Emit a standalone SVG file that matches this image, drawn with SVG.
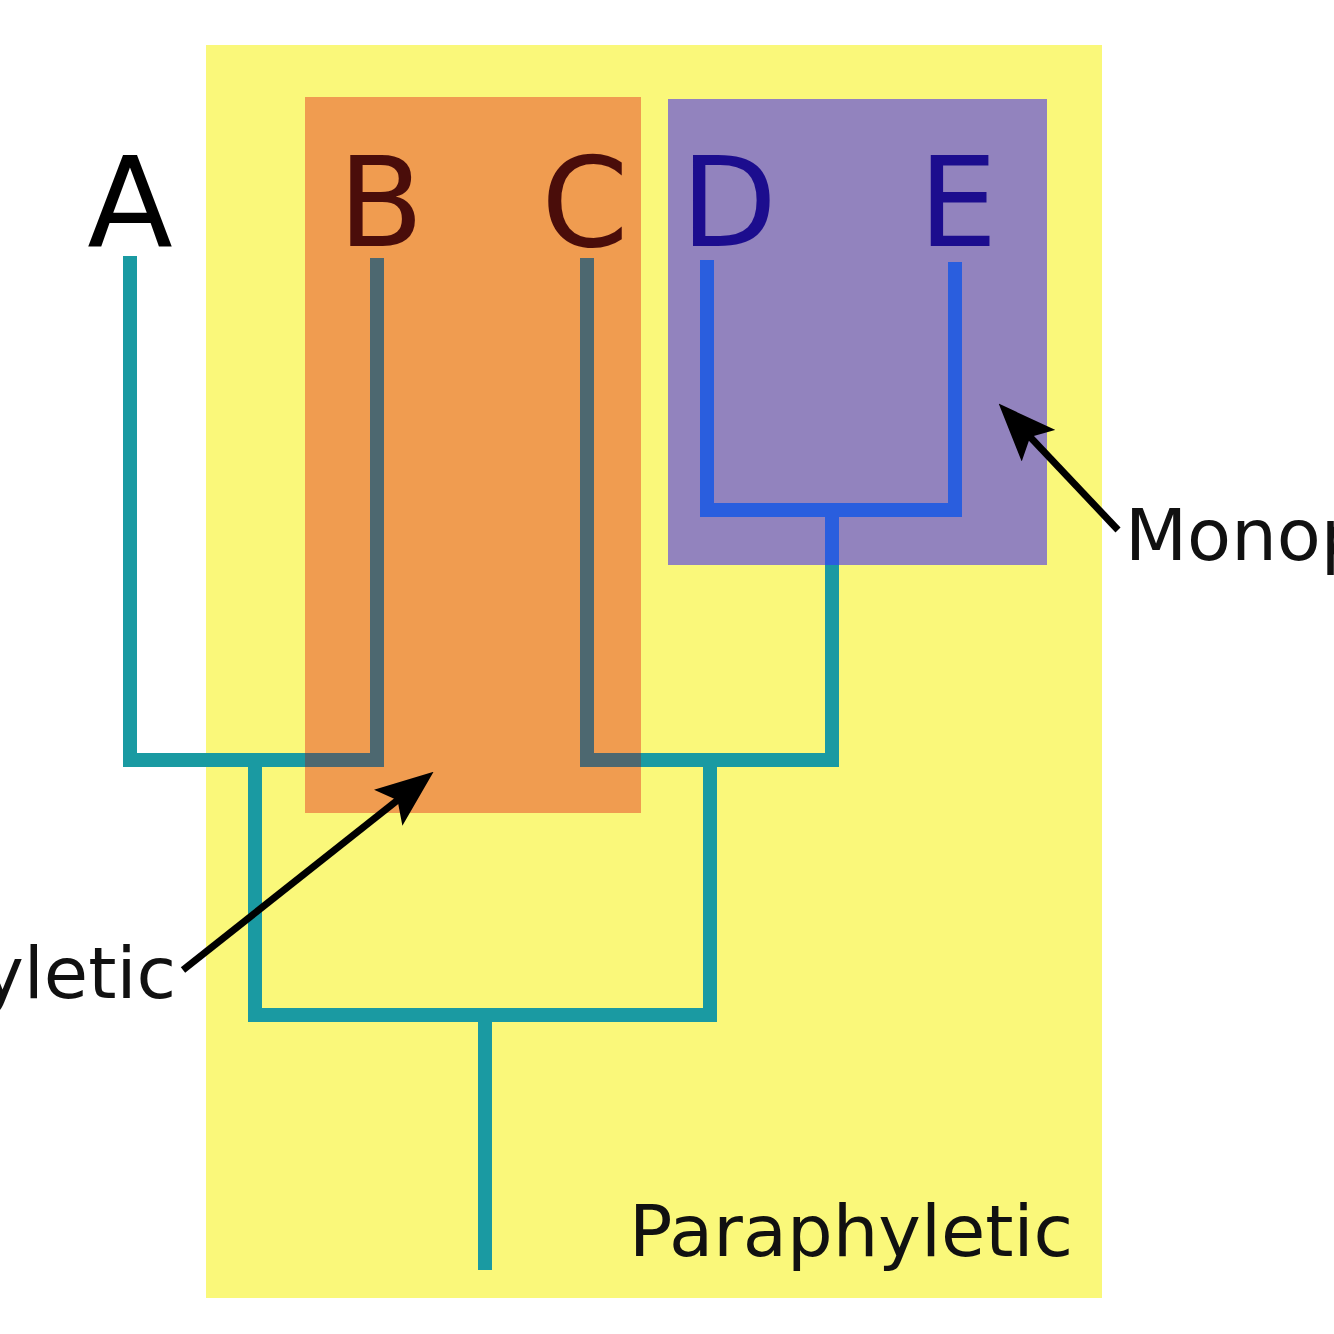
<svg xmlns="http://www.w3.org/2000/svg" width="1334" height="1334" viewBox="0 0 1334 1334">
<style>
.lbl{font-family:"DejaVu Sans","Liberation Sans",sans-serif;}
.tip{font-size:125px;text-anchor:middle;}
.grp{font-size:72px;fill:#111;}
.teal{stroke:#1a9aa2;stroke-width:14;fill:none;stroke-linecap:butt;stroke-linejoin:miter;}
.slate{stroke:#4d6870;stroke-width:14;fill:none;stroke-linecap:butt;stroke-linejoin:miter;}
.blue{stroke:#2a5ede;stroke-width:14;fill:none;stroke-linecap:butt;stroke-linejoin:miter;}
.arr{stroke:#000;stroke-width:7;fill:none;}
</style>
<defs>
<marker id="ah" viewBox="0 0 58 46" refX="26" refY="23" markerWidth="58" markerHeight="46" markerUnits="userSpaceOnUse" orient="auto">
<path d="M0,0 L58,23 L0,46 L12,23 Z" fill="#000"/>
</marker>
</defs>
<rect width="1334" height="1334" fill="#ffffff"/>
<g id="paraphyletic">
<rect x="206" y="45" width="896" height="1253" fill="#faf87a"/>
<text class="lbl grp" x="1073" y="1256" text-anchor="end">Paraphyletic</text>
</g>
<g id="polyphyletic">
<rect x="305" y="97" width="336" height="716" fill="#f09c50"/>
</g>
<g id="monophyletic">
<rect x="668" y="99" width="379" height="466" fill="#9283be"/>
</g>
<g id="connectors">
<path class="teal" d="M130,256 V760 H305"/>
<path class="slate" d="M305,760 H377 V258"/>
<path class="slate" d="M587,258 V760 H641"/>
<path class="teal" d="M641,760 H832 V565"/>
<path class="blue" d="M832,565 V510"/>
<path class="blue" d="M707,260 V510 H955 V262"/>
<path class="teal" d="M255,760 V1015 H710 V760"/>
<path class="teal" d="M485,1015 V1270"/>
<line class="arr" x1="183" y1="970" x2="408.5" y2="791.6" marker-end="url(#ah)"/>
<line class="arr" x1="1118" y1="530" x2="1020.6" y2="426.8" marker-end="url(#ah)"/>
</g>
<g id="tipA"><text class="lbl tip" x="130" y="246" fill="#000">A</text></g>
<g id="tipB"><text class="lbl tip" x="381" y="246" fill="#4a0d0a">B</text></g>
<g id="tipC"><text class="lbl tip" x="585" y="246" fill="#4a0d0a">C</text></g>
<g id="tipD"><text class="lbl tip" x="729" y="246" fill="#1c0d8e">D</text></g>
<g id="tipE"><text class="lbl tip" x="958" y="246" fill="#1c0d8e">E</text></g>
<g id="label-polyphyletic"><text class="lbl grp" x="176" y="998" text-anchor="end">Polyphyletic</text></g>
<g id="label-monophyletic"><text class="lbl grp" x="1125" y="560">Monophyletic</text></g>
</svg>
